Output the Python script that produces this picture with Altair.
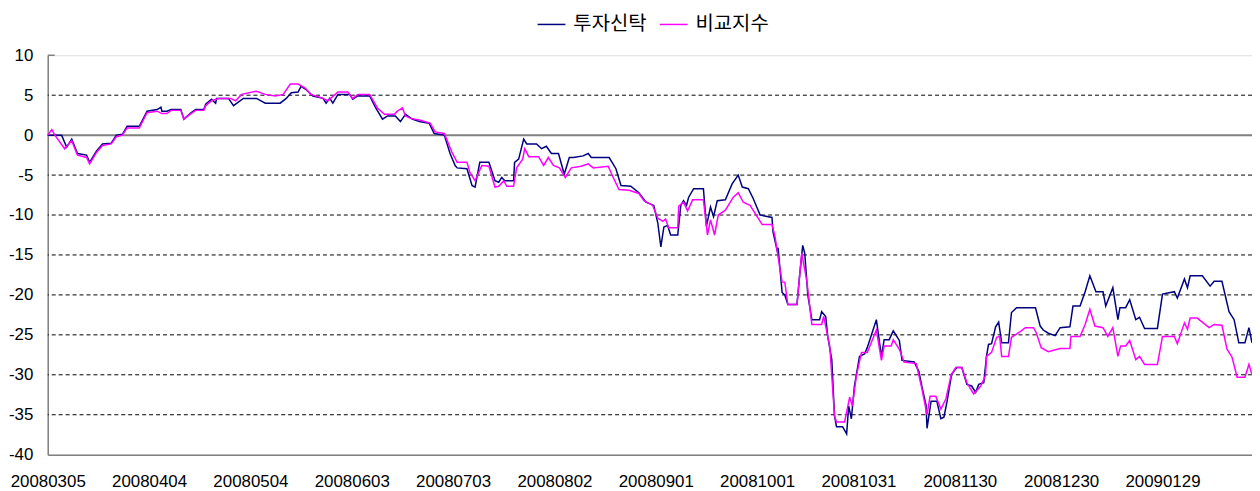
import altair as alt
import pandas as pd

# x: days since 2008-03-05 ; y: return (%)
trust_day = [0, 4.1, 5.6, 7.1, 8.8, 11.5, 12.4, 14.4, 16.2, 18.8, 20.3, 22.1, 23.5, 27.1, 29.4, 32.4, 33.5, 33.8, 35.3, 36.5,
             39.4, 40.3, 42.4, 43.8, 46.2, 46.8, 48.5, 49.7, 50, 53.5, 55, 57.9, 61.8, 64.4, 68.8, 70.6, 72.1, 74.1, 75, 76.5,
             78.5, 81.5, 82.4, 83.5, 84.4, 85.9, 89.4, 90.3, 91.8, 95.3, 97.1, 99.1, 100.6, 102.9, 104.4, 105.9, 107.9, 110,
             112.9, 114.4, 117.4, 119.1, 120.6, 121.2, 124.1, 125.6, 126.5, 127.9, 130.6, 132.4, 133.5, 134.4, 135.3, 137.9,
             138.2, 139.4, 140.9, 141.8, 144.7, 146.2, 147.6, 149.1, 151.2, 152.9, 154.4, 155.6, 158.5, 160, 160.9, 166.2,
             168.2, 169.7, 172.6, 175, 177.1, 179.4, 180.6, 181.5, 182.4, 183.5, 184.4, 186.5, 187.4, 188.2, 189.1, 189.7,
             191.2, 194.1, 195, 196.2, 197.1, 198.2, 200.6, 202.6, 204.4, 205.6, 207.4, 208.8, 210.9, 214.4, 214.7, 215.9,
             216.2, 216.8, 217.4, 218.2, 219.1, 221.8, 222.6, 223.5, 224.1, 225, 226.2, 228.5, 229.1, 230.3, 230.9, 232.1,
             232.9, 233.5, 235.3, 236.5, 237.1, 237.9, 238.8, 240.3, 241.8, 242.6, 245.3, 246.8, 247.6, 249.1, 250.3, 252.1,
             252.9, 256.5, 257.9, 258.8, 260, 260.3, 261.5, 263.2, 264.4, 265.3, 266.2, 267.6, 269.1, 270.6, 272.1, 273.5,
             274.7, 275.6, 277.1, 277.9, 278.5, 279.4, 280.6, 281.5, 282.4, 284.4, 285.3, 286.8, 292.4, 293.8, 294.7, 296.2,
             298.2, 299.7, 302.6, 303.5, 305.6, 307.1, 308.5, 309.4, 310.3, 312.4, 313.2, 315.3, 316.8, 317.4, 319.1, 320.3,
             322.1, 323.2, 324.7, 328.5, 330, 333.5, 334.4, 336.5, 337.4, 338.2, 341.8, 344.1, 345.3, 347.6, 349.7, 351.2,
             352.6, 354.4, 355.6, 356.5]
trust_val = [0, 0, -1.5, -0.5, -2.3, -2.5, -3.4, -2, -1.1, -1, 0, 0.1, 1.1, 1.1, 3, 3.2, 3.5, 3, 3, 3.2,
             3.2, 2, 2.8, 3.2, 3.2, 3.9, 4.5, 4, 4.6, 4.6, 3.7, 4.6, 4.6, 4, 4, 4.6, 5.3, 5.4, 6.1, 5.7,
             4.9, 4.6, 4, 4.6, 4, 5.1, 5.1, 4.5, 4.9, 4.9, 3.4, 2, 2.4, 2.4, 1.7, 2.6, 2, 1.7,
             1.5, 0.2, 0, -2.3, -3.8, -4.1, -4.2, -6.3, -6.5, -3.4, -3.4, -5.7, -5.9, -5.3, -5.7, -5.7,
             -3.4, -3, -0.5, -1.1, -1.1, -1.7, -1.4, -2.3, -2.3, -4.9, -2.8, -2.8, -2.6, -2.3, -2.8, -2.8,
             -4.2, -6.3, -6.4, -7.2, -8.4, -8.8, -11, -14, -11.5, -11.3, -12.5, -12.5, -8.8, -8.2, -8.8, -7.8,
             -6.7, -6.7, -11.4, -9, -10.2, -8.2, -8.1, -6.1, -5, -6.5, -6.7, -7.9, -10, -10.3, -12.1, -14.4,
             -14.1, -16.9, -19.7, -20, -21.2, -21.2, -17.5, -13.8, -14.8, -20, -23.1, -23.1, -22.1, -22.7, -25.2, -28.1,
             -35.1, -36.5, -36.5, -37.4, -33.9, -35.5, -31.4, -27.7, -27.4, -26.6, -23.1, -27.7, -25.6, -25.6, -24.5, -25.7,
             -28.2, -28.4, -29.6, -31.5, -33.8, -36.7, -33.3, -33.3, -35.5, -35.3, -33.4, -29.9, -29.1, -29.1, -31.2, -31.4,
             -32.2, -31.2, -31, -27.7, -26.2, -26.1, -24, -23.4, -26, -26, -22.2, -21.6, -21.6, -23.9, -24.4, -24.8,
             -25.1, -24.1, -24, -21.4, -21.4, -19.6, -17.6, -18.6, -19.6, -19.6, -21.4, -19.1, -23.1, -21.6, -21.6, -20.6,
             -23.1, -22.8, -24.2, -24.2, -19.9, -19.6, -20.4, -18, -19.1, -17.6, -17.6, -18.9, -18.3, -18.3, -22.1, -23.1,
             -26, -26, -24.1, -26]

bench_day = [0, 1.2, 2.1, 5, 7.1, 8.8, 11.5, 12.4, 14.4, 16.2, 18.8, 20.3, 22.1, 23.5, 27.1, 29.4, 32.4, 33.8, 35.3, 36.5,
             39.4, 40.3, 42.4, 43.8, 46.2, 46.8, 48.5, 50.6, 54.1, 55.6, 57.4, 61.8, 64.4, 67.4, 69.7, 71.8, 74.1, 76.2, 77.9,
             81.5, 82.9, 85.9, 88.8, 90.3, 91.8, 95.3, 97.6, 99.7, 102.6, 103.5, 105, 105.9, 107.4, 110, 113.2, 114.7, 117.4,
             119.7, 121.2, 124.1, 125, 126.5, 128.5, 130.6, 132.4, 133.5, 135, 135.9, 137.9, 138.8, 140.6, 141.2, 142.4,
             145.3, 146.8, 148.2, 149.7, 151.5, 153.2, 155, 157.9, 160, 161.5, 165.9, 167.4, 169.1, 172.1, 175, 176.5,
             179.1, 180.6, 182.1, 182.9, 183.8, 186.5, 186.8, 188.2, 189.4, 190.9, 194.1, 195.3, 196.2, 197.4, 198.5,
             200.6, 202.9, 204.4, 205.9, 207.9, 210.3, 211.5, 214.4, 215.3, 216.2, 217.4, 218.2, 219.1, 221.8, 223.2,
             224.7, 226.2, 229.1, 229.7, 231.5, 232.9, 233.5, 235.9, 237.4, 238.2, 239.4, 240.9, 242.6, 245.3, 246.8,
             247.6, 249.7, 250.3, 252.1, 253.5, 257.1, 258.8, 260.3, 261.2, 262.9, 264.4, 265.9, 267.4, 268.8, 270.6,
             272.1, 274.1, 276.2, 277.6, 277.9, 279.4, 280.9, 281.8, 282.4, 284.4, 285.3, 287.9, 289.4, 291.8, 292.6,
             294.1, 296.2, 299.7, 302.6, 302.9, 305.6, 307.1, 308.5, 310, 312.4, 313.8, 315.3, 316.8, 317.6, 319.1,
             320.3, 322.1, 323.2, 324.7, 328.5, 330, 333.5, 334.4, 336.5, 337.4, 338.2, 340.3, 343.8, 345.3, 347.6,
             349.1, 350.6, 352.1, 354.4, 355.6, 356.5]
bench_val = [0, 0.7, 0, -1.7, -0.7, -2.5, -2.8, -3.6, -2.2, -1.3, -1.1, -0.2, 0, 0.9, 0.9, 2.8, 3, 2.7, 2.7, 3.1,
             3.1, 2, 2.7, 3.1, 3.1, 3.7, 4.3, 4.6, 4.6, 4.3, 5.1, 5.5, 5.1, 4.9, 5.1, 6.4, 6.4, 5.9, 5.1,
             4.6, 4.3, 5.4, 5.4, 4.6, 5.1, 5.1, 3.4, 2.6, 2.6, 3, 3.4, 2.4, 2.1, 1.9, 1.5, 0.4, 0.2,
             -2.2, -3.4, -3.4, -4.7, -5.7, -3.8, -3.9, -6.5, -6.4, -5.7, -6.4, -6.4, -4.1, -3, -1.7, -2.7,
             -2.7, -3.8, -2.8, -3.8, -4.1, -5.3, -4.1, -3.9, -3.6, -4.1, -3.9, -5.3, -6.8, -6.9, -7.3, -8.2,
             -8.8, -10.4, -10.8, -10.5, -11.6, -11.6, -8.9, -8.4, -9.5, -8.1, -8.1, -12.5, -10.6, -12.5, -10,
             -9.4, -7.8, -7.2, -8.4, -8.8, -10.4, -11.2, -11.2, -12.7, -15.2, -18.4, -18.4, -21.2, -21.2, -14.8,
             -18.2, -23.7, -23.7, -22.7, -26.4, -35.1, -35.9, -35.9, -32.8, -33.9, -30.1, -27.2, -27.2, -24.4, -28.2,
             -26.4, -26.4, -25.6, -26.8, -28.4, -28.6, -31.8, -35, -32.7, -32.7, -34.3, -33, -30.1, -29.1, -29.1,
             -31, -32.4, -31.4, -30.1, -27.7, -27.2, -25.3, -25.2, -27.7, -27.7, -25.3, -24.6, -24.1, -24.1, -24.7,
             -26.6, -27.1, -26.7, -26.7, -25.2, -25.2, -23.7, -21.8, -23.9, -24.1, -25.2, -24.1, -27.7, -26.4, -26.4,
             -25.7, -28.1, -27.7, -28.7, -28.7, -25.2, -25.2, -26.1, -23.5, -24.3, -22.9, -22.9, -24.1, -23.7, -23.8,
             -26.8, -27.8, -30.3, -30.3, -28.7, -30]

series_names = ["투자신탁", "비교지수"]
series_colors = ["#000080", "#FF00FF"]
x_tick_days = [0, 30, 60, 90, 120, 150, 180, 210, 240, 270, 300, 330]
x_tick_labels = ["20080305", "20080404", "20080504", "20080603", "20080703", "20080802",
                 "20080901", "20081001", "20081031", "20081130", "20081230", "20090129"]
y_ticks = [10, 5, 0, -5, -10, -15, -20, -25, -30, -35, -40]
dashed_grid = [5, -5, -10, -15, -20, -25, -30, -35]

df = pd.concat([
    pd.DataFrame({"day": trust_day, "value": trust_val, "series": series_names[0], "ord": 0}),
    pd.DataFrame({"day": bench_day, "value": bench_val, "series": series_names[1], "ord": 1}),
])

NUMFONT = "Liberation Sans"
xscale = alt.Scale(domain=[0, 356.5], nice=False, zero=False)
yscale = alt.Scale(domain=[-40, 10], nice=False, zero=False)

label_array = "[" + ",".join("'" + s + "'" for s in x_tick_labels) + "]"

grid = alt.Chart(pd.DataFrame({"v": dashed_grid})).mark_rule(
    color="#000000", strokeDash=[4, 3], strokeWidth=1
).encode(y=alt.Y("v:Q", scale=yscale))

zero = alt.Chart(pd.DataFrame({"v": [0]})).mark_rule(
    color="#808080", strokeWidth=2
).encode(y=alt.Y("v:Q", scale=yscale))

toptick = alt.Chart(pd.DataFrame({"v": [10]})).mark_rule(
    color="#808080", strokeWidth=1.5
).encode(y=alt.Y("v:Q", scale=yscale), x=alt.value(0), x2=alt.value(7))

lines = alt.Chart(df).mark_line(strokeWidth=1.5, interpolate="linear").encode(
    x=alt.X("day:Q", scale=xscale,
            axis=alt.Axis(title=None, values=x_tick_days, grid=False, ticks=False,
                          labelExpr=label_array + "[round(datum.value/30)]",
                          labelFont=NUMFONT, labelFontSize=17, labelColor="#000000",
                          labelPadding=19, domainColor="#808080", domainWidth=1.5,
                          labelOverlap=False, labelFlush=False)),
    y=alt.Y("value:Q", scale=yscale,
            axis=alt.Axis(title=None, values=y_ticks, grid=False, ticks=False,
                          labelExpr="'' + datum.value",
                          labelFont=NUMFONT, labelFontSize=17, labelColor="#000000",
                          labelPadding=15, domainColor="#808080", domainWidth=1.5,
                          labelOverlap=False)),
    color=alt.Color("series:N",
                    scale=alt.Scale(domain=series_names, range=series_colors),
                    sort=series_names,
                    legend=alt.Legend(title=None, orient="none", direction="horizontal",
                                      legendX=492, legendY=-46,
                                      symbolType="stroke", symbolSize=784, symbolStrokeWidth=1.5,
                                      labelFont="Noto Sans CJK KR", labelFontSize=20,
                                      labelColor="#000000", labelOffset=7, columnPadding=10)),
    order=alt.Order("ord:Q"),
)

chart = alt.layer(grid, zero, toptick, lines).properties(
    width=1212, height=402,
    autosize=alt.AutoSizeParams(type="none"),
    padding={"left": 40, "top": 46, "right": 0, "bottom": 35},
).configure_view(stroke=None).configure(background="white")

chart.save("out.html", embed_options={"renderer": "svg", "actions": False})
